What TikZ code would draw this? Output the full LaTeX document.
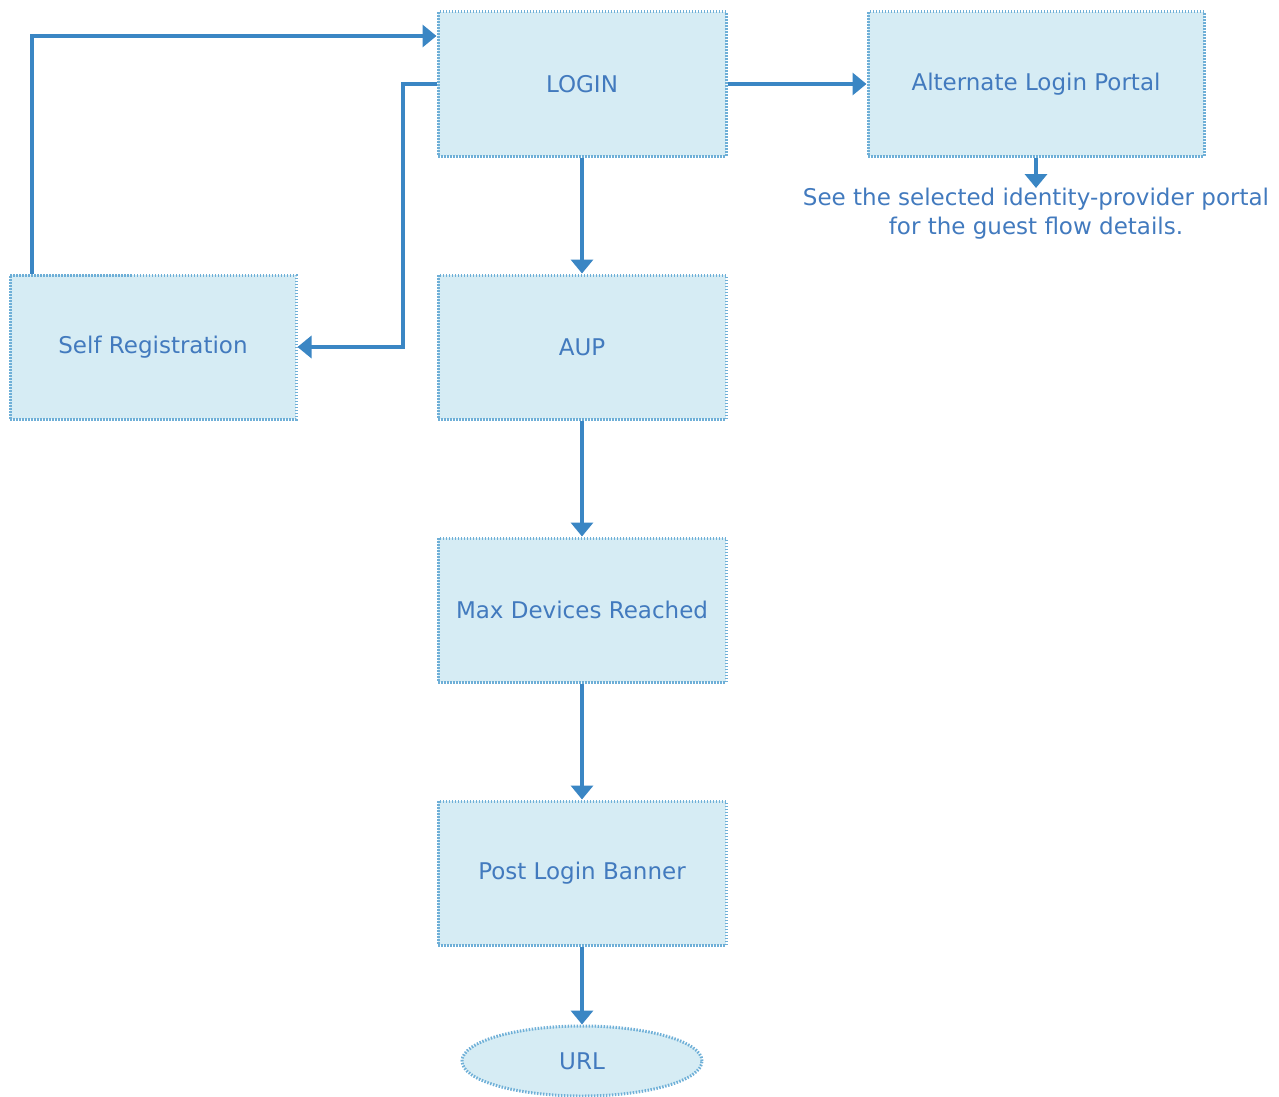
\documentclass[tikz,border=0pt]{standalone}
\usepackage{fontspec}
\setmainfont{DejaVu Sans}
\usetikzlibrary{arrows.meta,shapes.geometric}
\definecolor{boxfill}{RGB}{214,236,244}
\definecolor{boxline}{RGB}{110,175,215}
\definecolor{flow}{RGB}{58,134,196}
\definecolor{txt}{RGB}{66,122,190}
\begin{document}
\begin{tikzpicture}[x=1pt, y=-1pt,
    stage/.style={draw=boxline, fill=boxfill, line width=3pt,
        dash pattern=on 1.5pt off 1.5pt, minimum width=288pt,
        minimum height=144pt, text=txt, font=\fontsize{23}{27}\selectfont},
    finish/.style={stage, ellipse, minimum width=240pt, minimum height=70pt},
    link/.style={draw=flow, line width=4.5pt, -{Triangle[width=22pt,length=14pt]}}]
    \useasboundingbox (0,0) rectangle (1279,1097);

    % Portal pages
    \node[stage] (login) at (582,84) {\raisebox{-3pt}{LOGIN}};
    \node[stage, minimum width=336pt] (alt) at (1036,84) {Alternate Login Portal};
    \node[stage, minimum width=286pt] (selfreg) at (153,347) {Self Registration};
    \node[stage] (aup) at (582,347) {AUP};
    \node[stage] (maxdev) at (582,610) {Max Devices Reached};
    \node[stage] (banner) at (582,873) {Post Login Banner};
    \node[finish] (url) at (582,1061) {\raisebox{-3pt}{URL}};

    % Note
    \node[text=txt, font=\fontsize{23}{29}\selectfont, align=center, inner sep=0pt,
        anchor=north] (note) at (1036,188)
        {See the selected identity-provider portal\\for the guest flow details.};

    % Flow
    \draw[link] (login) -- (aup);
    \draw[link] (aup) -- (maxdev);
    \draw[link] (maxdev) -- (banner);
    \draw[link] (banner) -- (url);
    \draw[link] (login) -- (alt);
    \draw[link] (alt) -- (note);

    % Self registration loop
    \draw[link] (login.west) -| (403,347) -- (selfreg.east);
    \draw[link] (selfreg.north -| 32,0) |- (login.west |- 0,36);
\end{tikzpicture}
\end{document}
